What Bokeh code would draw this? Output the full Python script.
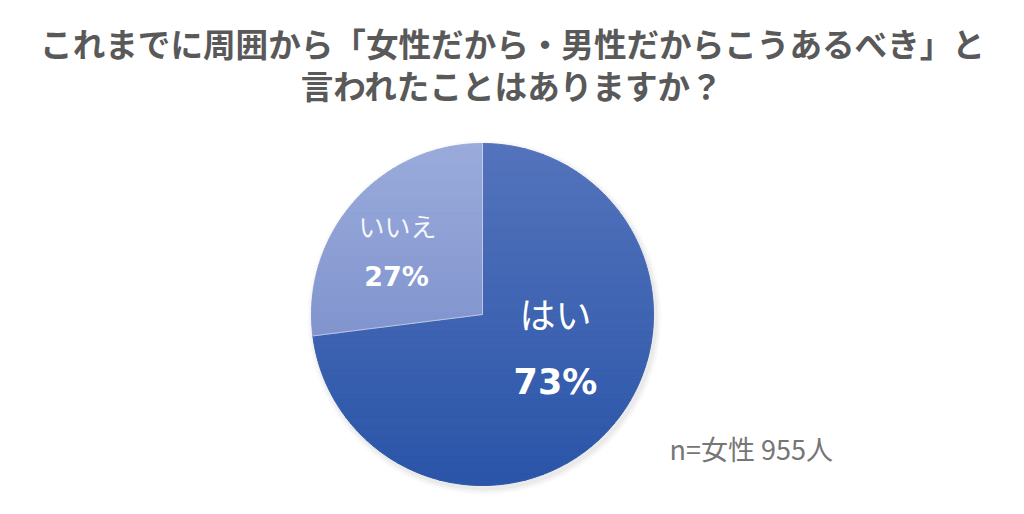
import numpy as np
from bokeh.plotting import figure
from bokeh.models import Range1d, ColumnDataSource
from bokeh.core.properties import value
from bokeh.embed import file_html
from bokeh.resources import INLINE

title_lines = ["これまでに周囲から「女性だから・男性だからこうあるべき」と", "言われたことはありますか？"]
categories = ["はい", "いいえ"]
percents = [73, 27]
grad_top = ["#5473bc", "#9aabdb"]
grad_bottom = ["#2a55a8", "#8194ce"]
note = "n=女性 955人"

W, H = 1008, 498
p = figure(width=W, height=H, output_backend="svg", toolbar_location=None,
           x_range=Range1d(0, W), y_range=Range1d(0, H), min_border=0)
p.axis.visible = False
p.grid.visible = False
p.outline_line_color = None
p.background_fill_color = "white"

cx, cy, r = 482, 184, 171
FONT = value("Noto Sans CJK JP")

vals = np.array(percents, dtype=float)
frac = vals / vals.sum()
cum = np.concatenate([[0], np.cumsum(frac)])
start = np.pi / 2 - cum[:-1] * 2 * np.pi
end = np.pi / 2 - cum[1:] * 2 * np.pi


def hex2rgb(h):
    h = h.lstrip("#")
    return np.array([int(h[i:i + 2], 16) for i in (0, 2, 4)], dtype=float)


def rgb2hex(c):
    return "#%02x%02x%02x" % tuple(int(round(v)) for v in c)


def clip(poly, yv, keep_above):
    out = []
    n = len(poly)
    for i in range(n):
        a, b = poly[i], poly[(i + 1) % n]
        ina = a[1] >= yv if keep_above else a[1] <= yv
        inb = b[1] >= yv if keep_above else b[1] <= yv
        if ina:
            out.append(a)
        if ina != inb:
            t = (yv - a[1]) / (b[1] - a[1])
            out.append((a[0] + t * (b[0] - a[0]), yv))
    return out


# soft shadow
for k, a in [(6, 0.035), (4, 0.05), (2, 0.07)]:
    p.scatter(x=[cx + 2], y=[cy - 3], size=2 * (r + k), fill_color="#7f7f7f",
              fill_alpha=a, line_color=None)

xs_all, ys_all, cols = [], [], []
nb = 60
for i in range(len(percents)):
    ang = np.linspace(start[i], end[i], 240)
    poly = [(cx, cy)] + list(zip(cx + r * np.cos(ang), cy + r * np.sin(ang)))
    ymin = min(pt[1] for pt in poly)
    ymax = max(pt[1] for pt in poly)
    c0, c1 = hex2rgb(grad_top[i]), hex2rgb(grad_bottom[i])
    edges = np.linspace(ymax, ymin, nb + 1)
    for j in range(nb):
        yhi, ylo = edges[j], edges[j + 1]
        band = clip(clip(poly, ylo, True), yhi, False)
        if len(band) < 3:
            continue
        xs_all.append([pt[0] for pt in band])
        ys_all.append([pt[1] for pt in band])
        t = (j + 0.5) / nb
        cols.append(rgb2hex(c0 + (c1 - c0) * t))

p.patches(xs="xs", ys="ys", fill_color="c", line_color="c", line_width=1,
          source=ColumnDataSource(dict(xs=xs_all, ys=ys_all, c=cols)))

# slice borders
p.segment(x0=[cx] * len(start), y0=[cy] * len(start),
          x1=list(cx + r * np.cos(start)), y1=list(cy + r * np.sin(start)),
          line_color="white", line_alpha=0.45, line_width=1)

# labels
name_pos = [(555, 186), (397, 273)]
pct_pos = [(555, 117), (396, 222)]
name_sizes = ["36px", "26px"]
pct_sizes = ["35px", "27px"]
name_alpha = [1.0, 0.92]
for i, c in enumerate(categories):
    p.text(x=[name_pos[i][0]], y=[name_pos[i][1]], text=[c], text_font=FONT,
           text_font_size=name_sizes[i], text_color="white", text_alpha=name_alpha[i],
           text_align="center", text_baseline="middle")
    p.text(x=[pct_pos[i][0]], y=[pct_pos[i][1]], text=[f"{percents[i]}%"], text_font=value("DejaVu Sans"),
           text_font_size=pct_sizes[i], text_font_style="bold", text_color="white",
           text_align="center", text_baseline="middle")

# title
p.text(x=[512, 512], y=[456, 414], text=title_lines, text_font=FONT,
       text_font_size="32.6px", text_font_style="bold", text_color="#595959",
       text_align="center", text_baseline="middle")

p.text(x=[669], y=[50], text=[note], text_font=FONT, text_font_size="27px",
       text_color="#767676", text_align="left", text_baseline="middle")

open("out.html", "w").write(file_html(p, INLINE))
